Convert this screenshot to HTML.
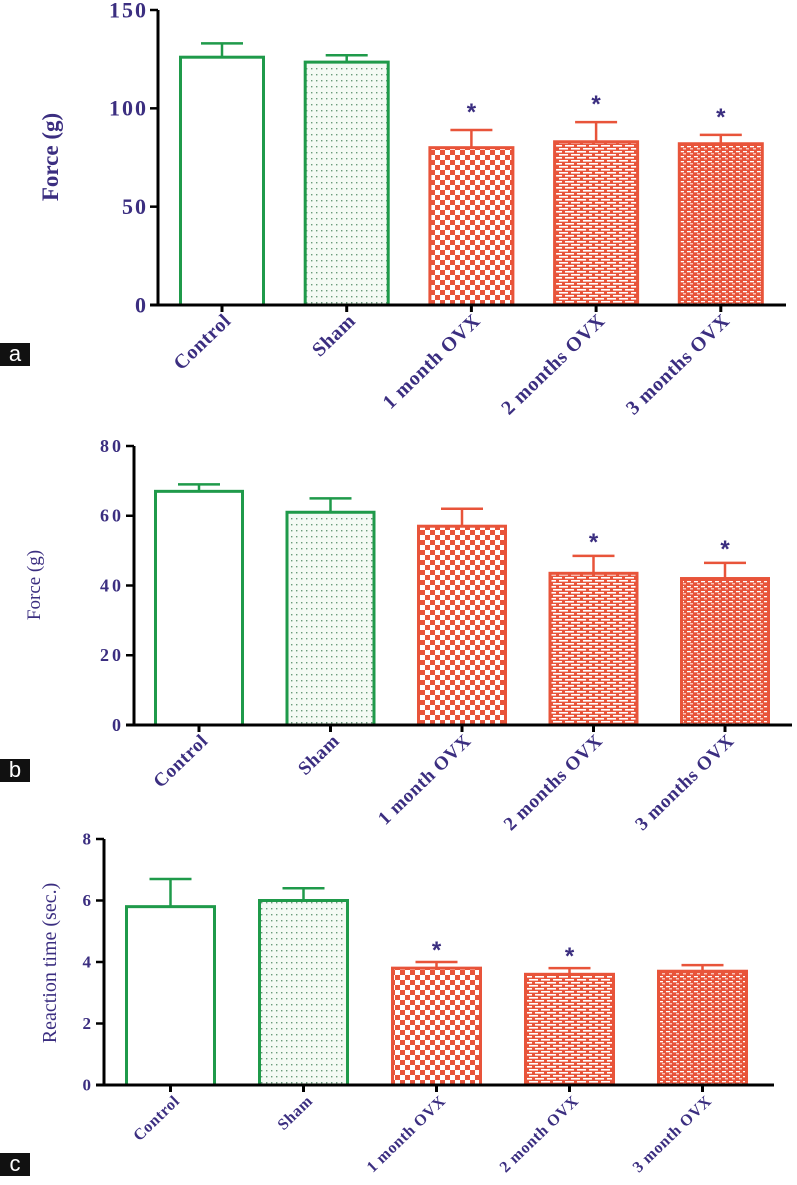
<!DOCTYPE html>
<html><head><meta charset="utf-8"><style>
body{margin:0;background:#fff;}
svg{display:block;}
.tick{font-family:"Liberation Serif",serif;font-weight:bold;fill:#3b2e80;}
.cat{font-family:"Liberation Serif",serif;font-weight:bold;fill:#3b2e80;letter-spacing:0.6px;}
.yt{font-family:"Liberation Serif",serif;fill:#3b2e80;}
.star{font-family:"Liberation Sans",sans-serif;font-weight:bold;fill:#3b2e80;font-size:24px;}
</style></head><body>
<svg id="chart" width="797" height="1185" viewBox="0 0 797 1185" xmlns="http://www.w3.org/2000/svg">
<defs>
<pattern id="dots" width="5" height="6" patternUnits="userSpaceOnUse"><rect width="5" height="6" fill="#f4faf4"/><rect x="1" y="2" width="1.4" height="1.4" fill="#6a9a7a"/></pattern>
<pattern id="checker" width="10" height="10" patternUnits="userSpaceOnUse"><rect width="10" height="10" fill="#fff"/><rect width="5" height="5" fill="#e8543a"/><rect x="5" y="5" width="5" height="5" fill="#e8543a"/></pattern>
<pattern id="brick" width="12" height="6" patternUnits="userSpaceOnUse"><rect width="12" height="6" fill="#e8543a"/><rect x="1" y="1" width="9" height="1.6" fill="#fff"/><rect x="7" y="4" width="9" height="1.6" fill="#fff"/><rect x="-5" y="4" width="9" height="1.6" fill="#fff"/></pattern>
<pattern id="fine" width="7" height="5" patternUnits="userSpaceOnUse"><rect width="7" height="5" fill="#e8543a"/><rect x="1" y="1" width="4" height="1.3" fill="#fff"/><rect x="4" y="3.2" width="4" height="1.2" fill="#fde0d8"/></pattern>
</defs>
</svg>
<script>
// Panel a data
const catsA = ["Control","Sham","1 month OVX","2 months OVX","3 months OVX"];
const valsA = [126,123.5,80,83,82];
const errsA = [7,3.5,9,10,4.5];
const sigA = [false,false,true,true,true];
const ticksA = [0,50,100,150];
// Panel b data
const catsB = ["Control","Sham","1 month OVX","2 months OVX","3 months OVX"];
const valsB = [67,61,57,43.5,42];
const errsB = [2,4,5,5,4.5];
const sigB = [false,false,false,true,true];
const ticksB = [0,20,40,60,80];
// Panel c data
const catsC = ["Control","Sham","1 month OVX","2 month OVX","3 month OVX"];
const valsC = [5.8,6.0,3.8,3.6,3.7];
const errsC = [0.9,0.4,0.2,0.2,0.2];
const sigC = [false,false,true,true,false];
const ticksC = [0,2,4,6,8];

const svg = document.getElementById('chart');
const NS = 'http://www.w3.org/2000/svg';
function mk(tag, attrs, parent){
  const e = document.createElementNS(NS, tag);
  for (const k in attrs) e.setAttribute(k, attrs[k]);
  (parent||svg).appendChild(e);
  return e;
}
const fills = ['#fff','url(#dots)','url(#checker)','url(#brick)','url(#fine)'];
const strokes = ['#1f9a4a','#1f9a4a','#e8543a','#e8543a','#e8543a'];

function panel(key, cats, vals, errs, sig, ticks, L){
  const g = mk('g', {});
  
  
  const max = ticks[ticks.length-1];
  const y = v => L.y0 - v / max * (L.y0 - L.yTop);
  const x = i => L.x0 + i * L.step;
  cats.forEach((c, i) => {
    const top = y(vals[i]);
    const cx = x(i) + L.bw/2;
    const eb = mk('g', {}, g);
    
    
    mk('line', {x1:cx, x2:cx, y1:top, y2:y(vals[i]+errs[i]), stroke:strokes[i], 'stroke-width':2.5}, eb);
    mk('line', {x1:cx-21, x2:cx+21, y1:y(vals[i]+errs[i]), y2:y(vals[i]+errs[i]), stroke:strokes[i], 'stroke-width':2.5}, eb);
    const r = mk('rect', {x:x(i)+1.5, y:top, width:L.bw-3, height:L.y0-top, fill:fills[i], stroke:strokes[i], 'stroke-width':3}, g);
    
    
    if (sig[i]) {
      const s = mk('text', {x:cx, y:y(vals[i]+errs[i]) - L.starGap, 'text-anchor':'middle', class:'star'}, g);
      s.textContent = '*';
      
      
    }
    mk('line', {x1:cx, x2:cx, y1:L.y0, y2:L.y0+7, stroke:'#000', 'stroke-width':3}, g);
    const t = mk('text', {x:0, y:0, 'text-anchor':'end', class:'cat', 'font-size':L.cfs, transform:`translate(${cx+10},${L.y0+17}) rotate(-44)`}, g);
    t.textContent = c;
    
    
  });
  const ax = mk('line', {x1:L.ax, x2:L.ax, y1:L.yTop, y2:L.y0, stroke:'#000', 'stroke-width':3}, g);
  
  
  const xa = mk('line', {x1:L.ax-8, x2:L.xEnd, y1:L.y0, y2:L.y0, stroke:'#000', 'stroke-width':3}, g);
  
  
  ticks.forEach(tv => {
    mk('line', {x1:L.ax-8, x2:L.ax, y1:y(tv), y2:y(tv), stroke:'#000', 'stroke-width':2.5}, g);
    const t = mk('text', {x:L.ax-10, y:y(tv)+L.tfs*0.33, 'text-anchor':'end', class:'tick', 'font-size':L.tfs, 'letter-spacing':L.tls}, g);
    t.textContent = tv;
    
    
  });
  const yt = mk('text', {x:0, y:0, 'text-anchor':'middle', class:'yt', 'font-size':L.yfs, 'font-weight':L.yfw, transform:`translate(${L.ytx},${L.ytY}) rotate(-90)`}, g);
  yt.textContent = L.title;
  
  
  mk('rect', {x:0, y:L.lbY, width:30, height:23, fill:'#111'}, g);
  const lt = mk('text', {x:15, y:L.lbY+18, 'text-anchor':'middle', fill:'#fff', 'font-family':'Liberation Sans, sans-serif', 'font-size':22}, g);
  lt.textContent = key;
  
  
}

panel('a', catsA, valsA, errsA, sigA, ticksA, {x0:179, step:124.7, bw:86, y0:305, yTop:10, ax:158, xEnd:786, tfs:22, tls:2, yfs:23, yfw:'bold', cfs:20, title:'Force (g)', ytx:58, ytY:157, starGap:10, lbY:343});
panel('b', catsB, valsB, errsB, sigB, ticksB, {x0:154, step:131.5, bw:90, y0:725, yTop:446, ax:134, xEnd:792, tfs:18, tls:3, yfs:19, yfw:'normal', cfs:19, title:'Force (g)', ytx:40, ytY:585, starGap:6, lbY:759});
panel('c', catsC, valsC, errsC, sigC, ticksC, {x0:125, step:133, bw:91, y0:1085, yTop:839, ax:104, xEnd:774, tfs:17, tls:3, yfs:20, yfw:'normal', cfs:16, title:'Reaction time (sec.)', ytx:56, ytY:963, starGap:4, lbY:1153});
</script>
</body></html>
